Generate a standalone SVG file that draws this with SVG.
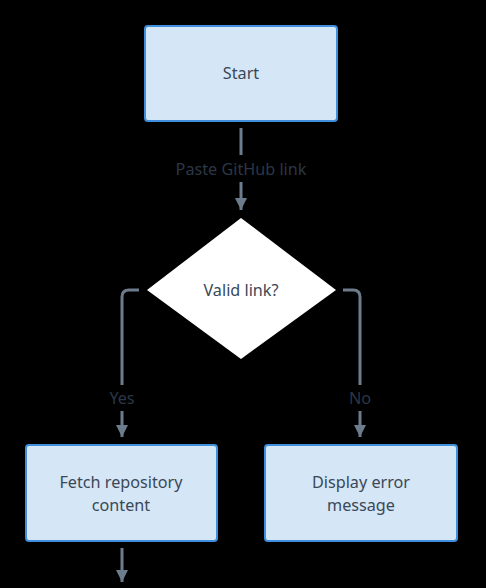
<svg xmlns="http://www.w3.org/2000/svg" width="486" height="588" viewBox="0 0 486 588">
  <style>
    .box { fill: #d5e6f6; stroke: #3f8fdc; stroke-width: 2; }
    .dia { fill: #ffffff; }
    .txt { font-family: "Noto Sans", "DejaVu Sans", sans-serif; font-size: 16.2px; fill: #3a4858; text-anchor: middle; }
    .lbl { font-family: "Noto Sans", "DejaVu Sans", sans-serif; font-size: 16.2px; fill: #2b3747; text-anchor: middle; }
    .edge { fill: none; stroke: #6c7c8c; stroke-width: 3; }
  </style>
  <defs>
    <marker id="ah" viewBox="0 0 10 10" refX="10" refY="5" markerWidth="4" markerHeight="4" markerUnits="strokeWidth" orient="auto">
      <path d="M0,0 L10,5 L0,10 z" fill="#6c7c8c"/>
    </marker>
  </defs>
  <rect width="486" height="588" fill="#000000"/>
  <g id="connectors">
    <path class="edge" d="M241,128 V155"/>
    <path class="edge" d="M241,182 V210" marker-end="url(#ah)"/>
    <text class="lbl" x="241" y="175">Paste GitHub link</text>
    <path class="edge" d="M139,290 H129 Q122,290 122,297 V385"/>
    <path class="edge" d="M122,411 V437" marker-end="url(#ah)"/>
    <text class="lbl" x="122" y="404">Yes</text>
    <path class="edge" d="M343,290 H353 Q360,290 360,297 V385"/>
    <path class="edge" d="M360,411 V437" marker-end="url(#ah)"/>
    <text class="lbl" x="360" y="404">No</text>
    <path class="edge" d="M122,548 V582" marker-end="url(#ah)"/>
  </g>
  <g id="start">
    <rect class="box" x="145" y="26" width="192" height="95" rx="3"/>
    <text class="txt" x="241" y="79">Start</text>
  </g>
  <g id="valid">
    <polygon class="dia" points="241,218 336,290 241,359 147,290"/>
    <text class="txt" x="241" y="296">Valid link?</text>
  </g>
  <g id="fetch">
    <rect class="box" x="26" y="445" width="191" height="96" rx="3"/>
    <text class="txt" x="121" y="488">Fetch repository</text>
    <text class="txt" x="121" y="511">content</text>
  </g>
  <g id="error">
    <rect class="box" x="265" y="445" width="192" height="96" rx="3"/>
    <text class="txt" x="361" y="488">Display error</text>
    <text class="txt" x="361" y="511">message</text>
  </g>
</svg>
